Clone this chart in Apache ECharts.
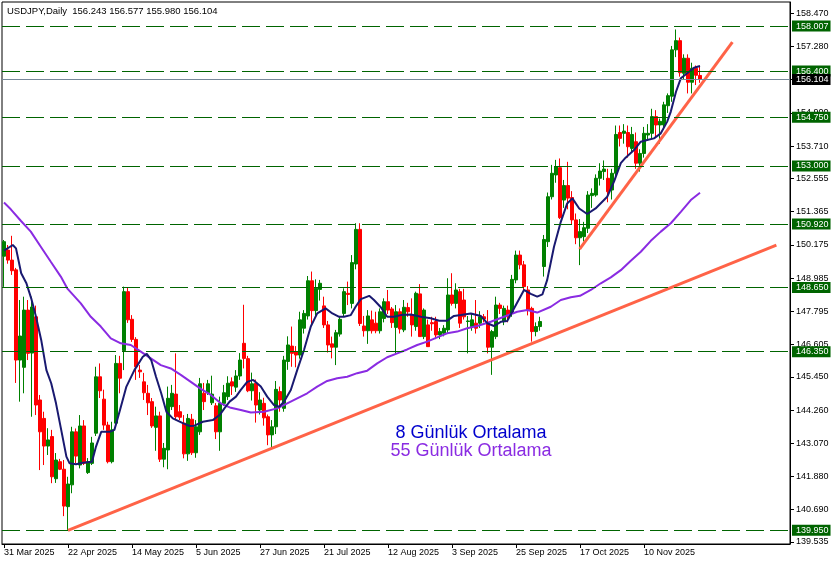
<!DOCTYPE html>
<html><head><meta charset="utf-8">
<script src="https://cdn.jsdelivr.net/npm/echarts@6/dist/echarts.min.js"></script>
<style>html,body{margin:0;padding:0;background:#fff}#c{width:836px;height:565px}</style>
</head><body><div id="c"></div>
<script>
// ---- data ----
const openVals = [149.77,149.99,149.63,149.28,146.05,145.79,147.84,146.30,147.60,144.62,
143.96,142.97,143.31,141.80,142.41,142.14,140.80,141.58,143.48,142.29,
143.69,142.02,142.35,143.43,145.45,144.65,143.72,142.41,143.79,145.93,
146.39,148.50,147.51,146.79,145.69,145.27,144.86,144.56,143.64,144.05,
142.50,142.83,144.38,144.83,144.20,143.79,142.69,143.93,142.73,143.48,
144.86,144.88,144.52,144.41,143.48,144.50,144.74,145.27,145.08,145.48,
146.65,146.10,144.95,145.22,144.26,144.50,144.02,143.37,143.66,144.92,
144.32,146.00,146.55,146.35,146.23,147.19,147.63,148.89,147.82,148.58,
147.99,147.31,146.63,146.51,146.98,147.72,148.44,148.08,149.49,150.73,
147.27,147.10,147.49,147.37,147.10,147.54,148.14,147.88,147.22,147.78,
147.13,147.93,147.66,147.25,148.42,146.89,147.31,147.39,147.43,146.95,
147.01,147.13,148.38,148.08,148.50,148.20,147.43,147.25,147.37,147.37,
147.60,147.34,146.51,146.89,148.02,147.43,147.84,147.72,148.92,149.81,
149.46,148.56,147.90,147.07,147.25,149.40,150.29,151.90,152.68,152.94,
151.78,152.30,151.87,151.07,150.43,150.47,150.77,151.94,151.96,152.56,
152.80,152.56,152.14,152.74,154.20,154.17,154.20,153.63,153.87,153.10,
153.45,154.11,154.17,154.77,154.47,154.47,155.16,155.50,157.16,157.49,
156.32,156.86,156.00,156.50,156.243];
const closeVals = [150.29,149.63,149.25,146.05,146.91,147.84,146.29,147.95,144.44,143.48,
142.97,143.19,141.87,142.47,142.14,140.82,141.61,143.48,142.61,143.69,
142.35,142.41,143.08,145.45,144.95,143.72,142.41,143.55,145.93,145.40,
148.50,147.49,146.79,145.81,145.63,144.88,144.52,143.69,144.05,142.50,
142.89,144.68,144.86,144.02,144.00,142.69,143.96,142.73,143.66,145.20,
144.56,145.20,144.83,143.48,144.50,144.88,145.22,145.12,145.48,146.05,
146.11,144.95,145.20,144.44,144.62,143.98,143.37,143.66,145.00,144.62,
146.05,146.59,146.29,146.23,147.49,147.72,148.89,147.82,148.62,148.80,
147.31,146.59,146.51,147.03,147.51,148.50,148.40,149.54,150.73,147.36,
147.10,147.63,147.10,147.10,147.78,148.14,147.84,147.39,147.78,147.16,
147.94,147.78,147.31,148.44,146.89,147.84,146.53,147.35,146.95,147.07,
147.19,148.38,148.08,148.56,147.37,147.60,147.45,147.49,147.19,147.60,
147.52,146.51,147.07,148.02,147.90,147.90,147.60,148.94,149.81,149.46,
148.68,147.85,147.07,147.25,147.43,150.37,151.90,152.74,152.98,151.15,
152.30,151.85,151.07,150.43,150.65,150.79,151.96,152.02,152.56,152.82,
152.89,152.08,152.74,154.13,153.99,154.25,153.69,154.13,153.10,153.45,
154.17,154.17,154.77,154.47,154.60,155.19,155.52,157.16,157.49,156.34,
156.86,156.00,156.50,156.25,156.104];
const highVals = [150.35,150.17,150.50,149.35,148.20,148.32,148.20,148.32,148.00,144.80,
144.20,143.61,143.55,142.72,142.51,142.47,141.87,143.66,143.60,144.08,
143.90,142.54,143.30,145.81,145.93,144.99,143.84,143.84,146.23,146.20,
148.68,148.63,147.66,146.87,145.87,145.59,145.16,144.69,144.38,144.20,
143.08,145.10,145.16,146.29,144.44,144.08,144.12,144.12,143.90,145.41,
145.23,145.34,145.49,144.51,144.74,145.16,145.47,145.43,145.69,146.30,
148.03,146.20,145.60,145.35,144.90,144.70,144.10,143.90,145.30,145.10,
146.20,146.90,147.25,146.55,147.78,147.84,149.06,149.22,148.94,148.92,
148.32,147.45,146.89,147.13,147.60,148.62,148.86,149.81,150.95,150.95,
147.63,147.84,147.82,147.78,147.90,148.26,148.56,147.95,148.02,147.90,
148.20,148.10,148.26,148.50,148.77,147.90,147.50,147.60,147.60,147.20,
147.30,148.98,149.16,148.80,148.60,148.60,147.63,147.70,148.20,147.80,
147.70,147.84,147.13,148.32,148.10,148.00,148.00,149.10,149.97,149.97,
149.60,148.70,147.96,147.40,147.60,150.53,152.05,153.04,153.22,153.27,
152.50,153.15,152.10,151.30,151.10,151.00,152.10,152.20,152.70,153.10,
153.20,152.90,152.90,154.45,154.45,154.50,154.45,154.40,154.20,153.60,
154.40,154.50,155.05,155.00,154.70,155.30,155.60,157.30,157.89,157.60,
157.00,157.00,156.70,156.60,156.577];
const lowVals = [148.67,149.50,149.10,145.23,144.56,144.86,146.05,144.02,144.08,142.11,
142.29,142.65,141.64,141.65,142.11,140.46,139.95,141.28,142.36,142.17,
142.29,141.97,142.29,143.33,144.69,143.55,142.35,142.35,143.72,144.86,
145.69,147.38,146.70,145.34,145.41,144.62,144.08,143.62,142.80,142.40,
142.21,142.14,144.26,143.90,143.90,142.53,142.44,142.65,142.55,143.37,
144.26,144.80,144.44,143.22,142.80,144.41,144.62,144.80,144.91,145.34,
145.75,144.90,144.60,143.81,144.10,143.70,143.00,142.90,143.40,144.20,
144.20,145.70,145.81,145.79,146.10,147.00,147.50,147.27,147.60,148.18,
147.20,146.32,146.11,145.87,146.89,147.60,148.02,147.90,149.30,147.27,
146.89,146.63,147.00,147.01,147.00,147.40,147.70,147.20,146.27,147.00,
147.05,147.60,146.89,147.10,146.89,146.80,146.53,147.10,146.80,146.80,
146.90,147.00,148.00,147.90,147.20,147.50,146.29,147.10,147.00,147.20,
147.40,146.29,145.52,146.80,147.70,147.30,147.40,147.60,148.80,149.30,
148.55,147.65,146.71,146.90,147.10,149.04,150.10,151.80,152.40,151.10,
151.50,151.45,150.90,150.20,149.45,150.30,150.60,151.50,151.90,152.30,
152.50,151.70,151.80,152.60,153.70,153.80,153.30,153.50,152.90,152.80,
153.30,153.90,154.00,154.00,153.80,154.30,154.90,155.30,156.90,156.20,
156.10,155.60,155.60,155.90,155.98];
// moving averages: [bar position, price]
const ma8Points = [[0,149.97],[2.2,150.17],[3,150.05],[4.3,149.16],[5.6,148.8],[6.8,148.26],[8,147.6],[9.3,146.77],[10.6,145.69],[11.8,145.22],[13,144.5],[14.3,143.55],[15.6,142.59],[16.4,142.35],[18,142.32],[19.7,142.37],[22,142.41],[23,142.95],[24.3,143.48],[26.4,143.48],[27.6,143.55],[29,144.26],[30.6,145.1],[32.6,145.69],[34.7,146.17],[35.7,146.27],[36.8,146.05],[38,145.45],[39.3,144.86],[40.6,144.2],[42.2,143.96],[44.7,143.79],[46.4,143.69],[47.6,143.7],[49.7,143.84],[52.2,143.9],[53.9,144.08],[55.1,144.32],[56.4,144.56],[58,144.74],[59.2,144.98],[60.8,145.27],[62.3,145.34],[64.2,145.1],[65.8,144.74],[67.5,144.44],[68.8,144.38],[70,144.56],[71.7,144.98],[73.3,145.69],[75,146.41],[76.7,147.25],[78.3,147.72],[80.4,147.9],[82.1,147.72],[83.8,147.6],[85,147.6],[86.7,147.66],[87.9,147.96],[89.2,148.23],[91.3,148.35],[92.5,148.2],[94.2,147.94],[95.8,147.6],[97.5,147.6],[99.2,147.66],[101.7,147.68],[104.2,147.6],[106.7,147.55],[108.8,147.46],[110.8,147.46],[112.5,147.63],[114.2,147.66],[116.7,147.72],[119.2,147.63],[120.8,147.37],[122.5,147.27],[124.2,147.42],[125.8,147.45],[127.5,147.9],[130,148.56],[131.7,148.42],[133.3,148.32],[134.6,148.4],[135.8,148.92],[137.5,150.11],[139.2,151.0],[140.8,151.66],[142.1,151.84],[143.8,151.48],[145.8,151.28],[147.9,151.48],[150.8,151.9],[152.5,152.44],[154.2,153.1],[155.4,153.3],[157.5,153.57],[159.2,153.87],[160.8,153.93],[162.5,153.99],[164.2,154.17],[165.8,154.59],[166.7,154.95],[168,155.66],[169.2,156.14],[170.8,156.32],[172.5,156.52],[174,156.58]];
const ma55Points = [[0,151.69],[1.7,151.45],[4.2,151.04],[6.7,150.65],[9.2,150.11],[11.7,149.57],[14.2,149.04],[15.8,148.62],[17.5,148.35],[19.2,148.08],[21.7,147.6],[24.2,147.25],[26.7,146.83],[29.2,146.65],[31.7,146.59],[34.2,146.35],[36.7,146.11],[39.2,145.87],[41.7,145.75],[44.2,145.52],[46.7,145.27],[49.2,145.02],[51.7,144.8],[54.2,144.5],[56.7,144.34],[59.2,144.26],[61.7,144.17],[65,144.2],[68.3,144.32],[70.8,144.5],[73.3,144.68],[75.8,144.86],[78.3,145.1],[80.8,145.3],[83.3,145.4],[85.8,145.45],[88.3,145.58],[90.8,145.67],[93.3,145.93],[95.8,146.15],[98.3,146.29],[100.8,146.43],[103.3,146.59],[105.8,146.71],[108.3,146.86],[110.8,147.01],[113.3,147.07],[115.8,147.19],[118.3,147.27],[121.7,147.42],[125,147.6],[128.3,147.78],[130.8,147.84],[133.3,147.75],[136.7,147.96],[139.2,148.2],[141.7,148.3],[144,148.35],[146.7,148.56],[149.2,148.8],[151.7,149.01],[154.2,149.27],[156.7,149.61],[159.2,149.93],[161.7,150.32],[164.2,150.65],[166.7,150.95],[169.2,151.36],[171.7,151.78],[174,152.04]];
const trendLong = [[16,139.95],[193.1,150.17]];
const trendShort = [[143.9,150.02],[182.1,157.44]];
const levelVals = [158.007,156.400,154.750,153.000,150.920,148.650,146.350,139.950];
const lastPrice = 156.104;
const yTickVals = [158.470,157.280,156.090,154.900,153.710,152.555,151.365,150.175,148.985,147.795,146.605,145.450,144.260,143.070,141.880,140.690,139.535];
const titleText = 'USDJPY,Daily  156.243 156.577 155.980 156.104';
const legendTexts = ['8 Günlük Ortalama','55 Günlük Ortalama'];
const firstDay = [2025,2,31];
const totalSlots = 197;

// ---- categories: trading days ----
const monthNames = ['Jan','Feb','Mar','Apr','May','Jun','Jul','Aug','Sep','Oct','Nov','Dec'];
const categories = [];
{ const d = new Date(Date.UTC(firstDay[0], firstDay[1], firstDay[2]));
  while (categories.length < totalSlots) {
    const wd = d.getUTCDay();
    if (wd !== 0 && wd !== 6) categories.push(d.getUTCDate() + ' ' + monthNames[d.getUTCMonth()] + ' ' + d.getUTCFullYear());
    d.setUTCDate(d.getUTCDate() + 1);
  } }
const candleData = closeVals.map((c, i) => [openVals[i], c, lowVals[i], highVals[i]]);
const labelEvery = 16;
const showIdx = (i) => i % labelEvery === 0 && i < closeVals.length;

const FONT = 'Liberation Sans';
const GREEN = '#008000', RED = '#FF0000', LEVEL = '#006400';
const boxLabel = (v, bg) => ({ show: true, position: 'end', distance: 2, formatter: () => v.toFixed(3), color: '#fff',
  backgroundColor: bg, fontSize: 9, fontFamily: FONT, padding: [1, 2, 1, 4], lineHeight: 9 });
const levelLine = (v) => ({ yAxis: v, lineStyle: { type: [18, 6], color: LEVEL, width: 1 }, label: boxLabel(v, LEVEL) });

const chart = echarts.init(document.getElementById('c'), null, { renderer: 'canvas' });
chart.setOption({
  animation: false,
  backgroundColor: '#fff',
  grid: { left: 2, top: 2, width: 788, height: 542, show: true, borderColor: '#000', borderWidth: 1 },
  xAxis: [{
    type: 'category', data: categories, boundaryGap: true,
    axisLine: { show: true, onZero: false, lineStyle: { color: '#000', width: 1 } },
    axisTick: { show: true, interval: showIdx, alignWithLabel: true, length: 4, lineStyle: { color: '#000' } },
    axisLabel: { interval: showIdx, align: 'left', color: '#000', fontSize: 9, fontFamily: FONT, margin: 4 },
    splitLine: { show: false }
  }, {
    type: 'value', min: -0.5, max: totalSlots - 0.5, show: false,
    axisLine: { onZero: false }
  }],
  yAxis: {
    type: 'value', position: 'right', min: 139.462, max: 158.874,
    splitLine: { show: false },
    axisLine: { show: true, onZero: false, lineStyle: { color: '#000', width: 1 } },
    axisTick: { show: true, inside: false, customValues: yTickVals, length: 4, lineStyle: { color: '#000' } },
    axisLabel: { customValues: yTickVals, formatter: (v) => Number(v).toFixed(3), color: '#000', fontSize: 9, fontFamily: FONT, margin: 6 }
  },
  series: [
    { type: 'line', data: [], z: 1, silent: true,
      markLine: { symbol: ['none', 'none'], silent: true, animation: false,
        data: levelVals.map(levelLine).concat([{
          yAxis: lastPrice, lineStyle: { type: 'solid', color: '#778899', width: 1 }, label: boxLabel(lastPrice, '#000')
        }]) } },
    { type: 'candlestick', data: candleData, barWidth: 3, z: 2, silent: true,
      itemStyle: { color: GREEN, color0: RED, borderColor: GREEN, borderColor0: RED, borderWidth: 1 } },
    { type: 'line', xAxisIndex: 1, data: ma55Points, symbol: 'none', z: 3, silent: true,
      lineStyle: { color: '#8A2BE2', width: 2 } },
    { type: 'line', xAxisIndex: 1, data: ma8Points, symbol: 'none', z: 3, silent: true,
      lineStyle: { color: '#191970', width: 2 } },
    { type: 'line', xAxisIndex: 1, data: trendLong, symbol: 'none', z: 4, silent: true,
      lineStyle: { color: '#FF6347', width: 3 } },
    { type: 'line', xAxisIndex: 1, data: trendShort, symbol: 'none', z: 4, silent: true,
      lineStyle: { color: '#FF6347', width: 3 } }
  ],
  graphic: [
    { type: 'text', x: 7, y: 11, z: 10, style: { text: titleText, font: '9.5px "Liberation Sans"', fill: '#000', verticalAlign: 'middle' } },
    { type: 'text', x: 471, y: 433, z: 10, style: { text: legendTexts[0], font: '18px "Liberation Sans"', fill: '#0000CD', align: 'center', verticalAlign: 'middle' } },
    { type: 'text', x: 471, y: 451, z: 10, style: { text: legendTexts[1], font: '18px "Liberation Sans"', fill: '#8A2BE2', align: 'center', verticalAlign: 'middle' } }
  ]
});
</script></body></html>
